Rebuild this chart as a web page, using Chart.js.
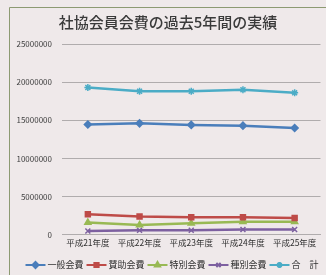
<!DOCTYPE html>
<html>
<head>
<meta charset="utf-8">
<script src="https://cdn.jsdelivr.net/npm/chart.js@4/dist/chart.umd.min.js"></script>
<style>
  html, body { margin: 0; padding: 0; background: #efe9ea; }
  #wrap { width: 326px; height: 275px; position: relative; }
</style>
</head>
<body>
<div id="wrap"><canvas id="chart" width="326" height="275"></canvas></div>
<script>
// ── Data ─────────────────────────────────────
var years = ['平成21年度', '平成22年度', '平成23年度', '平成24年度', '平成25年度'];
var ippan = [14450000, 14600000, 14400000, 14300000, 14000000];
var sanjo = [2700000, 2400000, 2300000, 2300000, 2200000];
var tokubetsu = [1600000, 1300000, 1500000, 1700000, 1700000];
var shubetsu = [500000, 600000, 600000, 700000, 700000];
var goukei = [19300000, 18800000, 18800000, 19000000, 18600000];
var seriesNames = ['一般会費', '賛助会費', '特別会費', '種別会費', '合　計'];
var yTicksMax = 25000000;
var yTicksStep = 5000000;

var colors = ['#4a7ebb', '#be4b48', '#98b954', '#7d60a0', '#4bacc6'];
var markers = ['rectRot', 'rect', 'triangle', 'crossRot', 'star'];
var font = "'Noto Sans CJK JP', 'Noto Sans', sans-serif";

var bgPlugin = {
  id: 'bg',
  beforeDraw: function (chart) {
    var ctx = chart.ctx;
    ctx.save();
    ctx.fillStyle = '#efe9ea';
    ctx.fillRect(0, 0, chart.width, chart.height);
    ctx.strokeStyle = '#8d9a72';
    ctx.lineWidth = 1;
    ctx.beginPath();
    ctx.moveTo(9.5, chart.height);
    ctx.lineTo(9.5, 7.5);
    ctx.lineTo(chart.width, 7.5);
    ctx.stroke();
    ctx.restore();
  }
};

// one-row legend, line + marker swatches like the spreadsheet original
var legendPlugin = {
  id: 'rowLegend',
  afterDraw: function (chart) {
    var ctx = chart.ctx;
    var sw = 20, gap = 2, itemGap = 3;
    ctx.save();
    ctx.font = '9px ' + font;
    ctx.textBaseline = 'middle';
    var items = chart.data.datasets.map(function (ds) {
      return { ds: ds, w: sw + gap + ctx.measureText(ds.label).width };
    });
    var total = items.reduce(function (a, it) { return a + it.w; }, 0) + itemGap * (items.length - 1);
    var x = 172 - total / 2;
    var y = 265;
    items.forEach(function (it, i) {
      ctx.strokeStyle = colors[i];
      ctx.fillStyle = colors[i];
      ctx.lineWidth = 2;
      ctx.beginPath(); ctx.moveTo(x, y); ctx.lineTo(x + sw, y); ctx.stroke();
      Chart.helpers.drawPoint(ctx, { pointStyle: markers[i], radius: 3, rotation: 0, borderWidth: 1.5 }, x + sw / 2, y);
      if (markers[i] !== 'crossRot' && markers[i] !== 'star') ctx.fill();
      ctx.fillStyle = '#303030';
      ctx.fillText(it.ds.label, x + sw + gap, y);
      x += it.w + itemGap;
    });
    ctx.restore();
  }
};

var datasets = [ippan, sanjo, tokubetsu, shubetsu, goukei].map(function (d, i) {
  return {
    label: seriesNames[i],
    data: d,
    borderColor: colors[i],
    backgroundColor: colors[i],
    borderWidth: 2.5,
    pointStyle: markers[i],
    pointRadius: 3.5,
    pointBorderWidth: 1.5,
    pointBorderColor: colors[i],
    pointBackgroundColor: colors[i],
    tension: 0
  };
});

new Chart(document.getElementById('chart'), {
  type: 'line',
  data: { labels: years, datasets: datasets },
  plugins: [bgPlugin, legendPlugin],
  options: {
    responsive: false,
    animation: false,
    layout: { padding: { left: 14, right: 4, top: 13, bottom: 24 } },
    plugins: {
      title: {
        display: true,
        text: '社協会員会費の過去5年間の実績',
        color: '#3a3a3a',
        font: { family: font, size: 15, weight: '500' },
        padding: { top: 0, bottom: 13 }
      },
      legend: { display: false },
      tooltip: { enabled: false }
    },
    scales: {
      y: {
        min: 0,
        max: yTicksMax,
        ticks: {
          stepSize: yTicksStep,
          color: '#404040',
          font: { family: font, size: 8 },
          padding: 10,
          callback: function (v) { return String(v); }
        },
        grid: { color: '#b0acad', drawTicks: false },
        border: { display: false },
        afterFit: function (s) { s.width = 48; }
      },
      x: {
        offset: true,
        ticks: { color: '#303030', font: { family: font, size: 8.5 }, maxRotation: 0, padding: 3 },
        grid: { display: false, drawTicks: false },
        border: { display: true, color: '#b0acad' }
      }
    }
  }
});
</script>
</body>
</html>
